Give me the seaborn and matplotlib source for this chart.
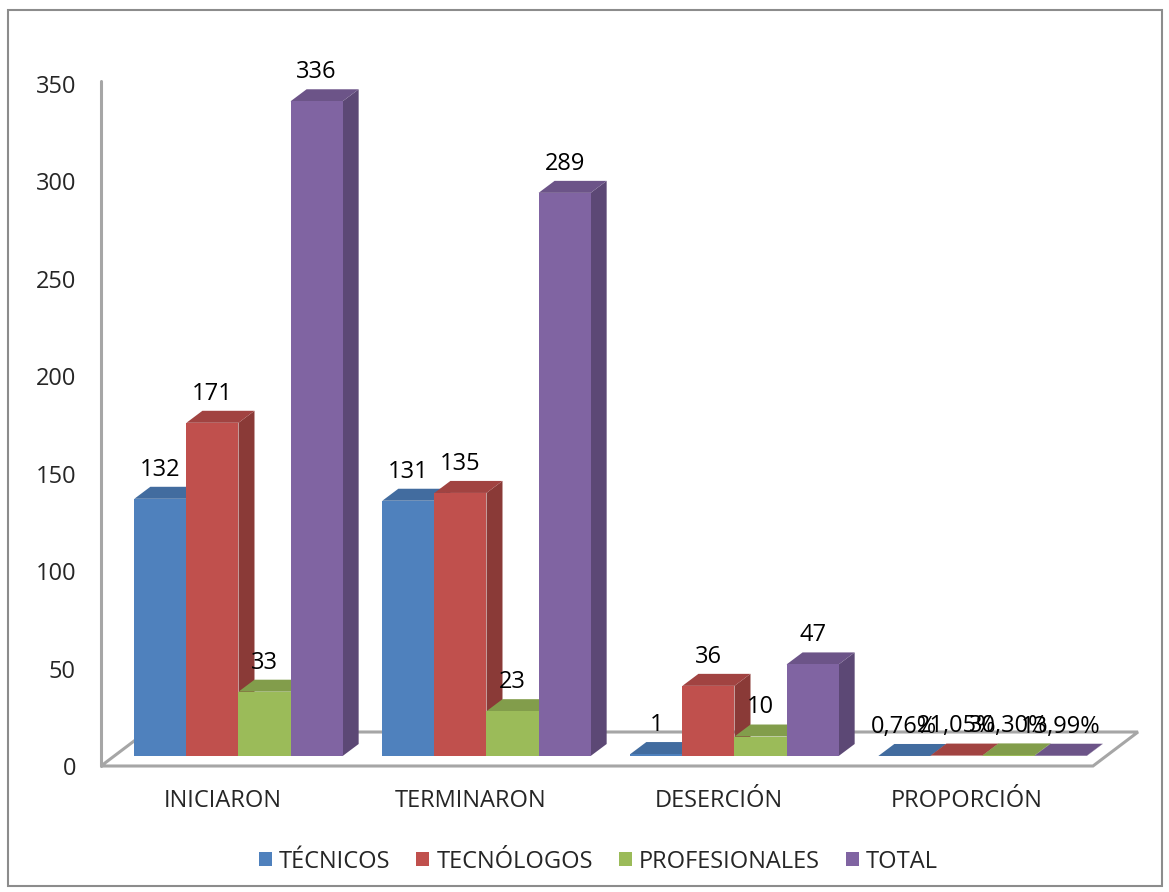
import numpy as np
import pandas as pd
import matplotlib
matplotlib.use('Agg')
import matplotlib.pyplot as plt
import matplotlib.transforms as mtransforms
from matplotlib.patches import Polygon, Patch, Rectangle
import seaborn as sns

# datos del grafico
categorias = ['INICIARON', 'TERMINARON', 'DESERCIÓN', 'PROPORCIÓN']
series = ['TÉCNICOS', 'TECNÓLOGOS', 'PROFESIONALES', 'TOTAL']
tecnicos = [132, 131, 1, 0.0076]
tecnologos = [171, 135, 36, 0.2105]
profesionales = [33, 23, 10, 0.3030]
total = [336, 289, 47, 0.1399]
yticks = [0, 50, 100, 150, 200, 250, 300, 350]

colores = ['#4F81BD', '#C0504D', '#9BBB59', '#8064A2']

valores = [tecnicos, tecnologos, profesionales, total]
df = pd.DataFrame({
    'categoria': [c for s in series for c in categorias],
    'serie': [s for s in series for c in categorias],
    'valor': [v for vals in valores for v in vals],
})


def etiqueta(cat, v):
    if cat == 'PROPORCIÓN':
        return f'{v * 100:.2f}%'.replace('.', ',')
    return f'{v:g}'


sns.set_style('white')
plt.rcParams['font.family'] = ['Open Sans', 'DejaVu Sans']
FS = 17

W, H = 1169, 892
fig = plt.figure(figsize=(W / 100, H / 100), dpi=100)
ax = fig.add_axes([101 / W, (H - 756) / H, 1037 / W, 682 / H])

sns.barplot(data=df, x='categoria', y='valor', hue='serie', order=categorias,
            hue_order=series, palette=colores, saturation=1, width=0.84,
            legend=False, ax=ax, linewidth=0)
ax.set_xlim(-0.5544, 3.627)
ax.set_ylim(0, 350)
for s in ax.spines.values():
    s.set_visible(False)
ax.set_xticks([])
ax.set_yticks([])
ax.set_xlabel('')
ax.set_ylabel('')

contenedores = list(ax.containers)
barras = sorted([p for cont in contenedores for p in cont], key=lambda p: p.get_x())


def px(dxp, dyp):
    # pixel offset -> data offset
    x0, y0 = ax.transData.transform((0, 0))
    p = ax.transData.inverted().transform((x0 + dxp, y0 + dyp))
    return p[0], p[1]


ddx, ddy = px(16, 12)

# piso y eje
fx, fy_front = px(45, -10)
_, fy_back = px(0, 24)
x0, x1 = ax.get_xlim()
piso = Polygon([(x0, fy_front), (x1 - fx, fy_front), (x1, fy_back), (x0 + fx, fy_back)],
               closed=True, facecolor='none', edgecolor='#A6A6A6', lw=2.2,
               clip_on=False, zorder=1)
ax.add_patch(piso)
_, ytop = px(0, 682 - 7)
ax.plot([x0, x0], [fy_front, ytop], color='#A6A6A6', lw=2.2, clip_on=False, zorder=1)


def oscuro(c, f):
    return tuple(np.clip(np.array(c[:3]) * f, 0, 1))


for k, p in enumerate(barras):
    x, w, h = p.get_x(), p.get_width(), p.get_height()
    c = p.get_facecolor()
    z = 2 + k * 0.1
    p.set_zorder(z + 0.02)
    lado = Polygon([(x + w, 0), (x + w + ddx, ddy), (x + w + ddx, h + ddy), (x + w, h)],
                   closed=True, facecolor=oscuro(c, 0.72), lw=0, zorder=z)
    tapa = Polygon([(x, h), (x + ddx, h + ddy), (x + w + ddx, h + ddy), (x + w, h)],
                   closed=True, facecolor=oscuro(c, 0.84), lw=0, zorder=z + 0.01)
    ax.add_patch(lado)
    ax.add_patch(tapa)

# etiquetas de datos
for i, cont in enumerate(contenedores):
    for j, p in enumerate(cont):
        ax.annotate(etiqueta(categorias[j], valores[i][j]),
                    xy=(p.get_x() + p.get_width() / 2, p.get_height()),
                    xytext=(0, 21), textcoords='offset points', ha='center', va='center',
                    fontsize=FS, color='black', zorder=20)

# etiquetas de ejes
dpi_t = fig.dpi_scale_trans
tx = mtransforms.blended_transform_factory(ax.transData, ax.transAxes)
for j, cat in enumerate(categorias):
    ax.text(j, 0, cat, transform=tx + mtransforms.ScaledTranslation(-0.16, -0.45, dpi_t),
            ha='center', va='center', fontsize=FS)
ty = mtransforms.blended_transform_factory(ax.transAxes, ax.transData)
for v in yticks:
    ax.text(0, v, str(v), transform=ty + mtransforms.ScaledTranslation(-0.25, -0.13, dpi_t),
            ha='right', va='center', fontsize=FS)

handles = [Patch(facecolor=c, edgecolor='none') for c in colores]
fig.legend(handles=handles, labels=series, loc='center', bbox_to_anchor=(0.512, 0.034),
           ncol=4, frameon=False, handlelength=0.55, handleheight=0.55,
           handletextpad=0.3, columnspacing=1.1, fontsize=FS)

fig.patches.append(Rectangle((8 / W, 6 / H), 1154 / W, 876 / H, transform=fig.transFigure,
                             fill=False, edgecolor='#8C8C8C', lw=1.5))

fig.savefig('out.png', dpi=100)
